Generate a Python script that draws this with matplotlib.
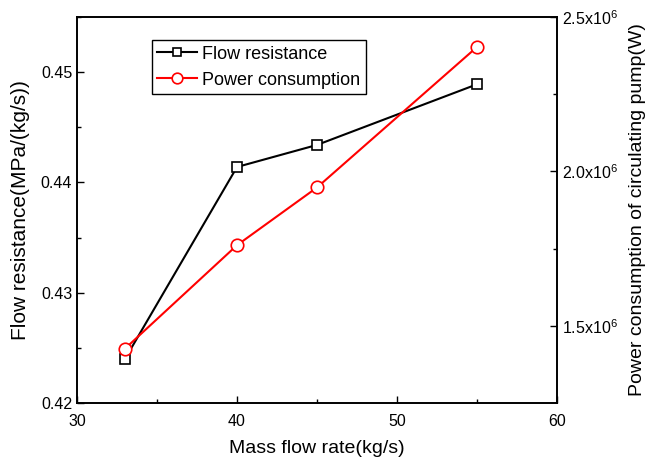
import matplotlib as mpl
mpl.use("Agg")
import matplotlib.pyplot as plt
from matplotlib.ticker import MultipleLocator, FixedLocator

plt.rcParams['font.family'] = ['Liberation Sans', 'DejaVu Sans']
plt.rcParams['mathtext.fontset'] = 'custom'
plt.rcParams['mathtext.rm'] = 'Liberation Sans'

mass_flow = [33, 40, 45, 55]
resistance = [0.4240, 0.4414, 0.4434, 0.4489]
power = [1.426e6, 1.761e6, 1.948e6, 2.403e6]

fig = plt.figure(figsize=(6.47, 4.59), dpi=100)
ax1 = fig.add_axes([0.119, 0.122, 0.742, 0.841])
ax2 = ax1.twinx()

l1, = ax1.plot(mass_flow, resistance, color='black', linewidth=1.5, marker='s',
               markersize=7.5, markerfacecolor='white', markeredgecolor='black',
               markeredgewidth=1.2, label='Flow resistance')
l2, = ax2.plot(mass_flow, power, color='red', linewidth=1.5, marker='o',
               markersize=9, markerfacecolor='white', markeredgecolor='red',
               markeredgewidth=1.2, label='Power consumption')

ax1.set_xlim(30, 60)
ax1.set_ylim(0.42, 0.455)
ax2.set_ylim(1.25e6, 2.5e6)

ax1.xaxis.set_major_locator(MultipleLocator(10))
ax1.xaxis.set_minor_locator(MultipleLocator(5))
ax1.yaxis.set_minor_locator(MultipleLocator(0.005))
ax1.set_yticks([0.42, 0.43, 0.44, 0.45])
ax1.set_yticklabels(['0.42', '0.43', '0.44', '0.45'])

ax2.yaxis.set_major_locator(FixedLocator([1.5e6, 2.0e6, 2.5e6]))
ax2.yaxis.set_minor_locator(FixedLocator([1.75e6, 2.25e6]))
ax2.set_yticklabels(['1.5x10$^{6}$', '2.0x10$^{6}$', '2.5x10$^{6}$'])

for ax in (ax1, ax2):
    ax.tick_params(which='both', direction='in', labelsize=11.5, width=1)
    ax.tick_params(which='major', length=5)
    ax.tick_params(which='minor', length=3)
    for s in ax.spines.values():
        s.set_linewidth(1.2)
ax1.tick_params(axis='x', pad=8)

ax1.set_xlabel('Mass flow rate(kg/s)', fontsize=14, labelpad=8)
ax1.set_ylabel('Flow resistance(MPa/(kg/s))', fontsize=15, labelpad=8)
ax2.set_ylabel('Power consumption of circulating pump(W)', fontsize=14, labelpad=8)

leg = ax1.legend([l1, l2], ['Flow resistance', 'Power consumption'],
                 loc='upper left', bbox_to_anchor=(0.156, 0.94), fontsize=13,
                 fancybox=False, edgecolor='black', framealpha=1, markerscale=0.85,
                 handlelength=2.2, borderpad=0.3, labelspacing=0.5,
                 handletextpad=0.3, borderaxespad=0)
leg.get_frame().set_linewidth(1.0)

fig.savefig('out.png', dpi=100)
